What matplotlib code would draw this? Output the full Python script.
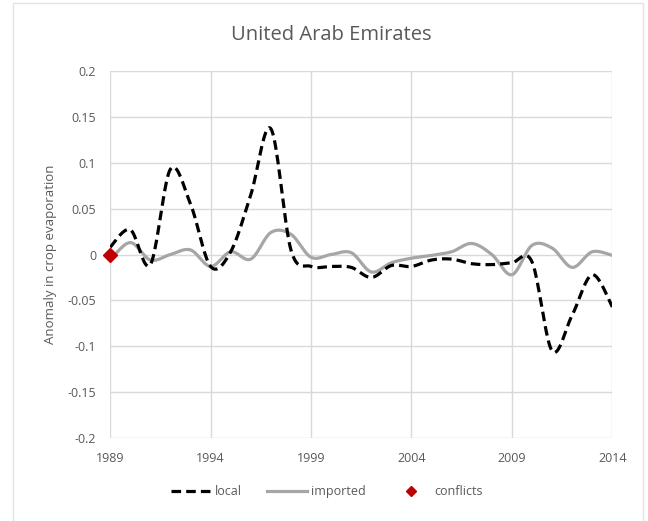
import numpy as np
import matplotlib
matplotlib.use("Agg")
import matplotlib.pyplot as plt
from matplotlib.lines import Line2D
from matplotlib.patches import Rectangle

years = list(range(1989, 2015))
local = [0.008, 0.027, -0.011, 0.093, 0.055, -0.013, 0.003, 0.065, 0.137, 0.005,
         -0.013, -0.013, -0.014, -0.025, -0.012, -0.013, -0.006, -0.005, -0.010, -0.011,
         -0.009, -0.008, -0.105, -0.066, -0.022, -0.057]
imported = [-0.006, 0.013, -0.006, 0.0, 0.005, -0.013, 0.003, -0.005, 0.024, 0.022,
            -0.003, 0.0, 0.002, -0.019, -0.009, -0.004, -0.001, 0.003, 0.012, 0.0,
            -0.022, 0.010, 0.007, -0.014, 0.003, -0.001]
conflict_years = [1989]
conflict_values = [0.0]
xticks = [1989, 1994, 1999, 2004, 2009, 2014]
yticks = [0.2, 0.15, 0.1, 0.05, 0, -0.05, -0.1, -0.15, -0.2]
ytick_labels = ["0.2", "0.15", "0.1", "0.05", "0", "-0.05", "-0.1", "-0.15", "-0.2"]


def smooth(x, y, n=20):
    x = np.asarray(x, float)
    y = np.asarray(y, float)
    xs, ys = [], []
    for i in range(len(x) - 1):
        p0 = np.array([x[i - 1] if i > 0 else x[i], y[i - 1] if i > 0 else y[i]])
        p1 = np.array([x[i], y[i]])
        p2 = np.array([x[i + 1], y[i + 1]])
        p3 = np.array([x[i + 2], y[i + 2]]) if i + 2 < len(x) else p2
        c1 = p1 + (p2 - p0) / 6
        c2 = p2 - (p3 - p1) / 6
        t = np.linspace(0, 1, n, endpoint=False)[:, None]
        pts = ((1 - t) ** 3) * p1 + 3 * ((1 - t) ** 2) * t * c1 + 3 * (1 - t) * t ** 2 * c2 + t ** 3 * p2
        xs.extend(pts[:, 0]); ys.extend(pts[:, 1])
    xs.append(x[-1]); ys.append(y[-1])
    return np.array(xs), np.array(ys)


plt.rcParams['font.family'] = ['Open Sans', 'DejaVu Sans']
fig = plt.figure(figsize=(6.48, 5.21), dpi=100)
fig.patches.append(Rectangle((0.02, -0.02), 0.972, 1.014, transform=fig.transFigure,
                             fill=False, edgecolor='#e3e3e3', lw=1))
ax = fig.add_axes([0.170, 0.159, 0.775, 0.705])

txt = '#595959'
grid = '#d9d9d9'

ax.set_xlim(1989, 2014)
ax.set_ylim(-0.2, 0.2)
for yv in yticks:
    ax.axhline(yv, color=grid, lw=1, zorder=0)
for xv in xticks:
    ax.axvline(xv, color=grid, lw=1, zorder=0)
for s in ax.spines.values():
    s.set_visible(False)

xs, ys = smooth(years, imported)
ax.plot(xs, ys, color='#a6a6a6', lw=2.3, zorder=2, solid_capstyle='round')
xs, ys = smooth(years, local)
ax.plot(xs, ys, color='black', lw=2.3, ls=(0, (3, 1.6)), zorder=3)
ax.plot(conflict_years, conflict_values, ls='none', marker='D', ms=7.5, color='#c00000',
        zorder=4, clip_on=False)

ax.set_xticks(xticks)
ax.set_xticklabels([str(v) for v in xticks])
ax.set_yticks(yticks)
ax.set_yticklabels(ytick_labels)
ax.tick_params(length=0, labelsize=9, colors=txt, pad=10)
ax.tick_params(axis='y', pad=10)
ax.set_ylabel('Anomaly in crop evaporation', fontsize=9.5, color=txt, labelpad=8)
fig.text(0.512, 0.932, 'United Arab Emirates', ha='center', va='center', fontsize=14.5, color=txt)

handles = [Line2D([], [], color='black', lw=2.3, ls=(0, (3, 1.6))),
           Line2D([], [], color='#a6a6a6', lw=2.3),
           Line2D([], [], ls='none', marker='D', ms=5, color='#c00000')]
fig.legend(handles, ['local', 'imported', 'conflicts'], loc='center', bbox_to_anchor=(0.505, 0.056),
           ncol=3, frameon=False, fontsize=9, labelcolor=txt, handlelength=3.2, columnspacing=2.0,
           handletextpad=0.3)

fig.savefig('out.png', dpi=100)
